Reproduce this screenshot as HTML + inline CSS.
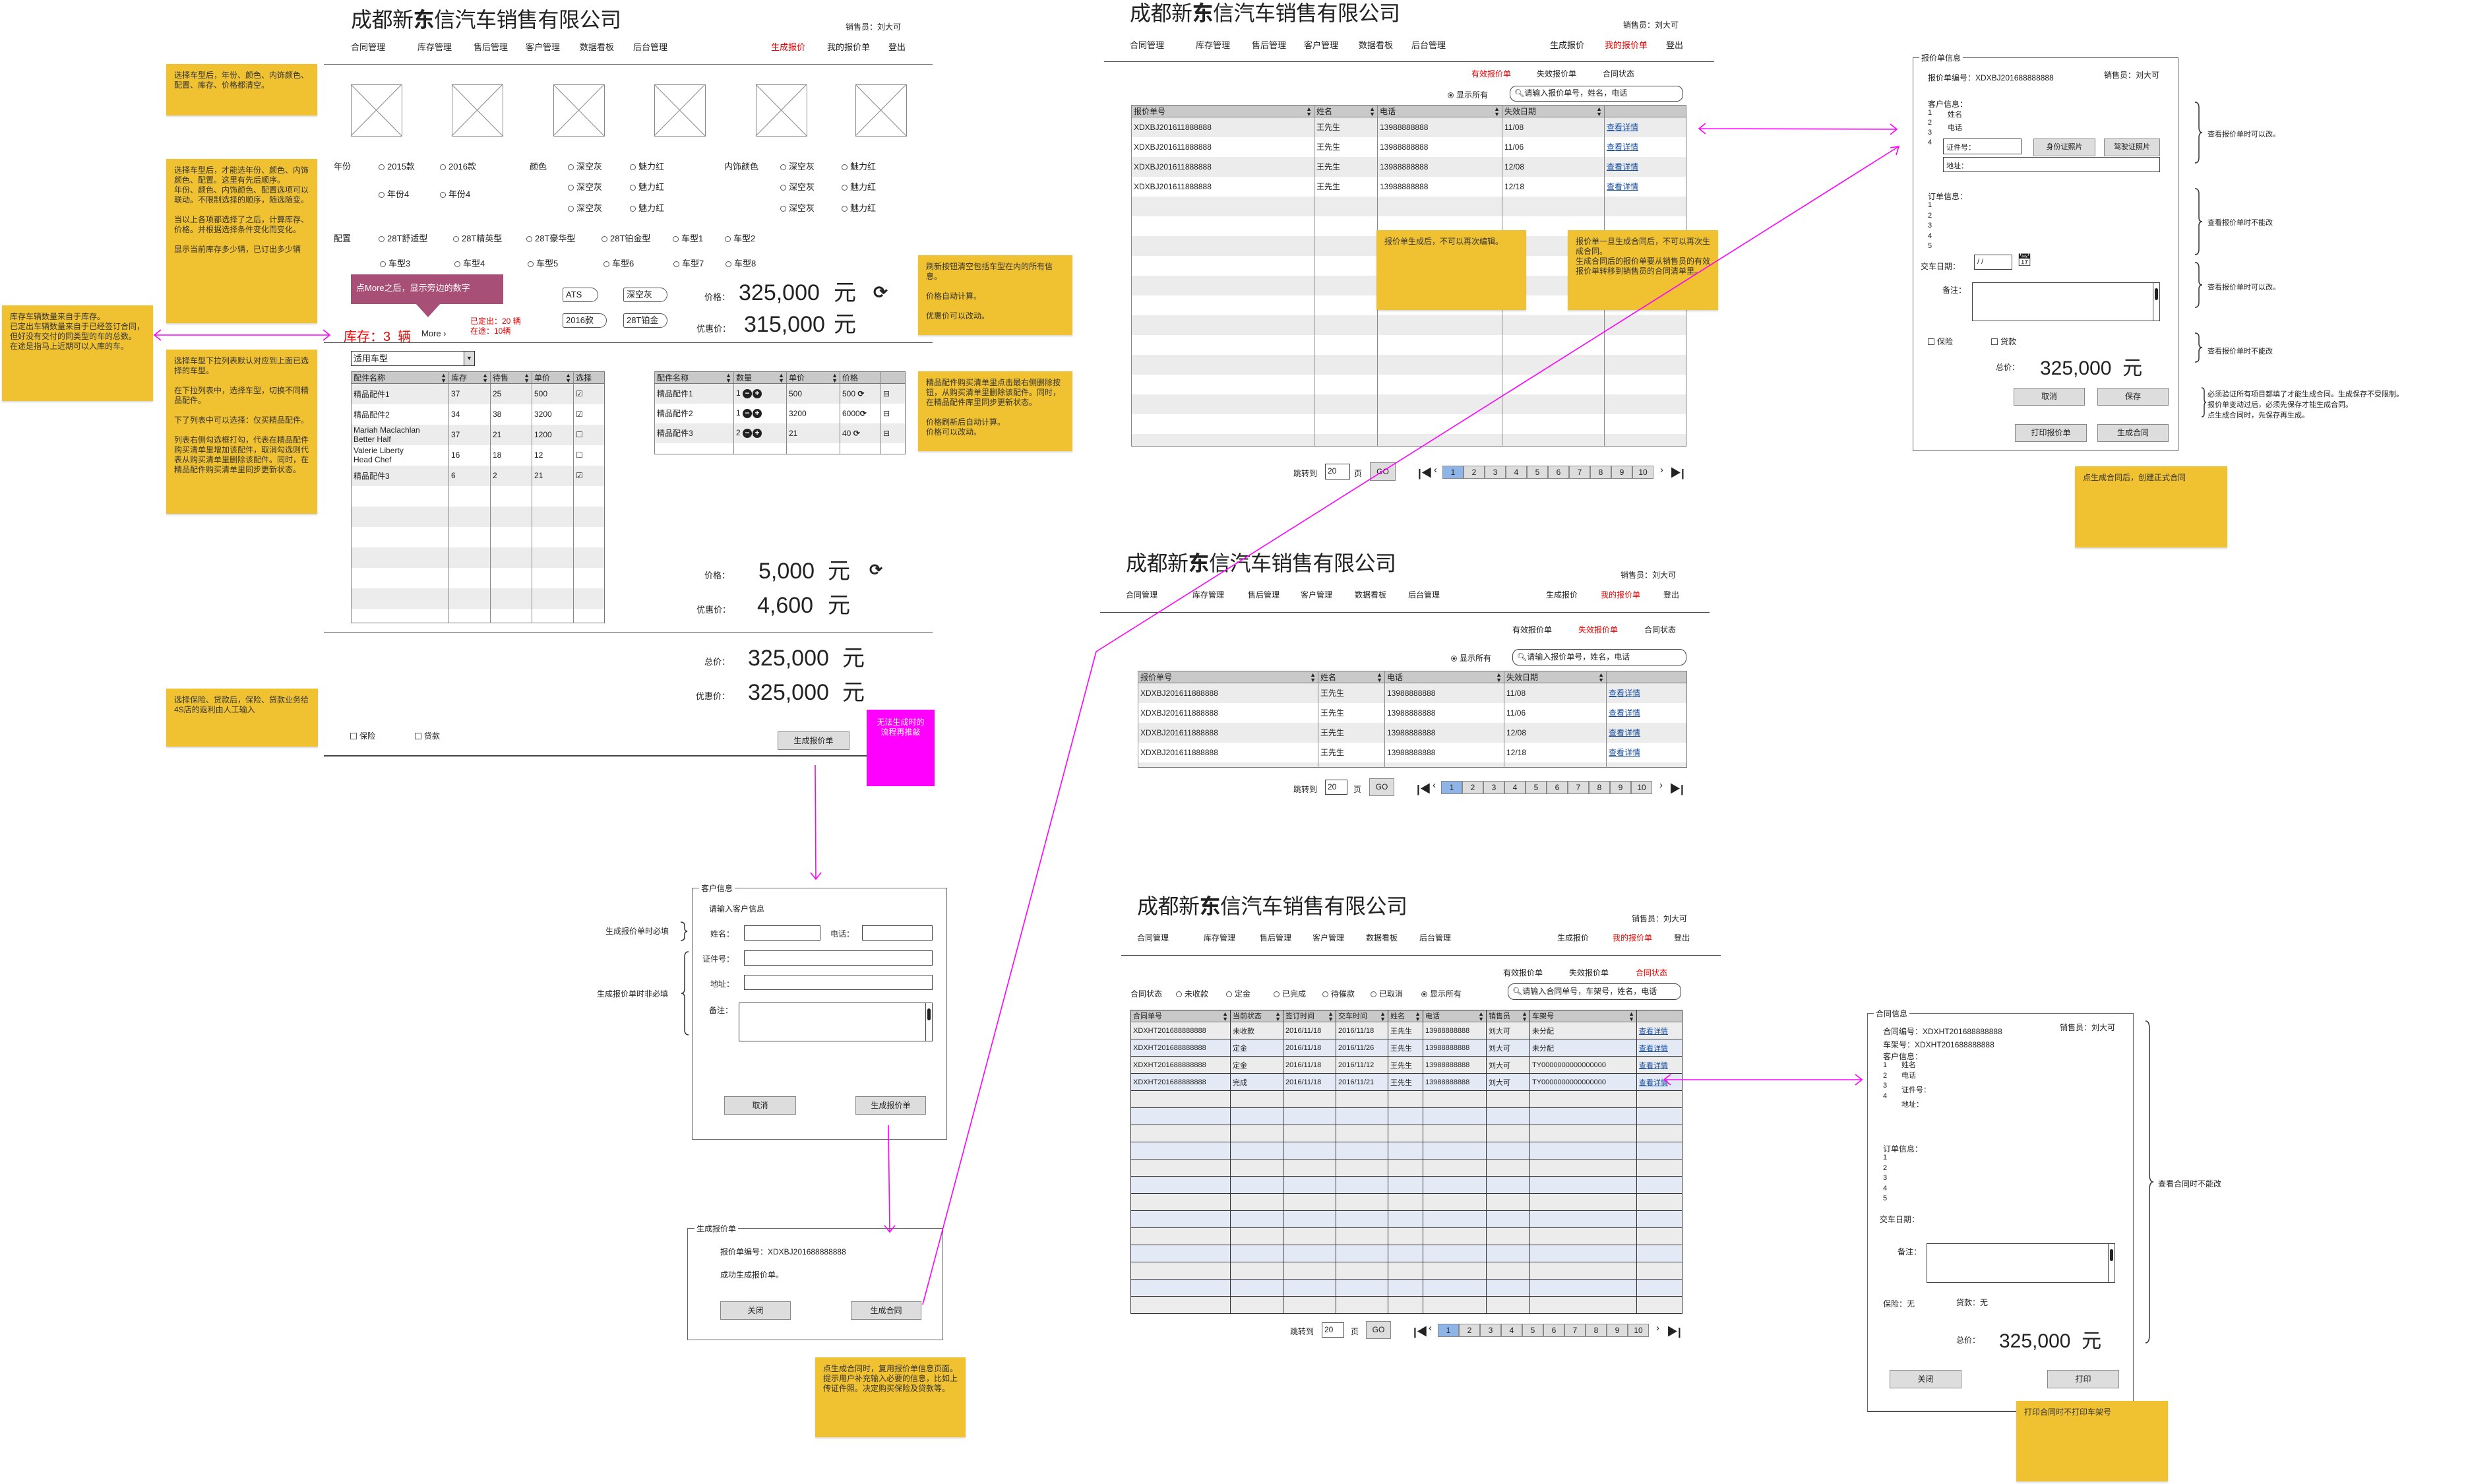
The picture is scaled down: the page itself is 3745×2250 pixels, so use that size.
<!DOCTYPE html>
<html><head><meta charset="utf-8">
<style>
*{box-sizing:border-box;margin:0;padding:0}
body{width:3745px;height:2250px;position:relative;background:#fff;font-family:"Liberation Sans","Noto Sans CJK SC",sans-serif;color:#222;overflow:hidden}
.a{position:absolute;white-space:nowrap}
.ttl{position:absolute;font-size:32px;line-height:36px;color:#222;white-space:nowrap;letter-spacing:-0.5px}
.nav{position:absolute;font-size:13px;white-space:nowrap}
.red{color:#e00}
.hr{position:absolute;height:2px;background:#444}
.note{position:absolute;background:#f0c232;font-size:12px;line-height:15px;padding:10px 12px;white-space:normal;color:#333;box-shadow:0 2px 2px rgba(0,0,0,.15)}
.rd{display:inline-block;width:9px;height:9px;border:1px solid #555;border-radius:50%;margin-right:4px;vertical-align:-1px}
.rd.on{background:radial-gradient(#333 35%,#fff 45%)}
.cb{display:inline-block;width:10px;height:10px;border:1px solid #555;margin-right:4px;vertical-align:-1px}
.r{position:absolute;font-size:13px;white-space:nowrap}
.tag{position:absolute;height:22px;border:1px solid #555;border-radius:3px 12px 12px 3px;font-size:13px;line-height:20px;padding-left:4px}
.big{position:absolute;font-size:34px;line-height:36px;white-space:nowrap;color:#222}
.btn{position:absolute;background:#ddd;border:1px solid #888;font-size:12px;text-align:center}
.inp{position:absolute;border:1px solid #444;background:#fff}
table.t{position:absolute;border-collapse:collapse;table-layout:fixed;font-size:12px;border:1px solid #777}
table.t td{padding:0 3px;overflow:hidden;white-space:nowrap;border-left:1px solid #888;vertical-align:middle}
table.t tr.h td{background:#c9c9c9;border-bottom:1px solid #777}
table.t tr.g td{background:#ececec}
table.t tr.b td{background:#e3eaf6}
table.t.k td{border:1px solid #333}
.lk{color:#1a4fa0;text-decoration:underline}
.srt{float:right;font-size:9px;line-height:8px;margin-top:1px}
.pg{position:absolute;height:20px;display:flex;font-size:12px}
.pg span{border:1px solid #888;background:#ddd;width:32px;text-align:center;line-height:18px}
.pg span.on{background:#8fb4e8}
.fs{position:absolute;border:1px solid #666;border-top:1px solid #666}
.lg{position:absolute;background:#fff;font-size:12px;padding:0 3px;white-space:nowrap}
.sb{position:absolute;border:1px solid #444;border-radius:10px;font-size:12px;line-height:20px;padding-left:6px;background:#fff}
.ic{display:inline-block;width:14px;height:14px;border-radius:50%;background:#222;color:#fff;font-size:12px;line-height:13px;text-align:center;font-weight:bold;margin-right:1px}
</style></head><body>

<!-- ================= PANEL 1 ================= -->
<div class="ttl" style="left:532px;top:12px">成都新<b>东</b>信汽车销售有限公司</div>
<div class="a" style="left:1282px;top:32px;font-size:12px">销售员：刘大可</div>
<div class="nav" style="left:532px;top:61px">合同管理</div>
<div class="nav" style="left:633px;top:61px">库存管理</div>
<div class="nav" style="left:718px;top:61px">售后管理</div>
<div class="nav" style="left:797px;top:61px">客户管理</div>
<div class="nav" style="left:879px;top:61px">数据看板</div>
<div class="nav" style="left:960px;top:61px">后台管理</div>
<div class="nav red" style="left:1169px;top:61px">生成报价</div>
<div class="nav" style="left:1254px;top:61px">我的报价单</div>
<div class="nav" style="left:1347px;top:61px">登出</div>
<div class="hr" style="left:491px;top:97px;width:923px;height:1px;background:#666"></div>

<div class="note" style="left:252px;top:97px;width:229px;height:78px">选择车型后，年份、颜色、内饰颜色、配置、库存、价格都清空。</div>

<svg class="a" style="left:0;top:0" width="3745" height="2250">
<g stroke="#888" stroke-width="1" fill="none">
<rect x="532.5" y="128.5" width="77" height="78"/><path d="M532 128L609 206M609 128L532 206"/>
<rect x="685.5" y="128.5" width="77" height="78"/><path d="M685 128L762 206M762 128L685 206"/>
<rect x="839.5" y="128.5" width="77" height="78"/><path d="M839 128L916 206M916 128L839 206"/>
<rect x="992.5" y="128.5" width="77" height="78"/><path d="M992 128L1069 206M1069 128L992 206"/>
<rect x="1146.5" y="128.5" width="77" height="78"/><path d="M1146 128L1223 206M1223 128L1146 206"/>
<rect x="1297.5" y="128.5" width="77" height="78"/><path d="M1297 128L1374 206M1374 128L1297 206"/>
</g>
</svg>

<div class="r" style="left:506px;top:242px">年份</div>
<div class="r" style="left:574px;top:242px"><span class="rd"></span>2015款</div>
<div class="r" style="left:667px;top:242px"><span class="rd"></span>2016款</div>
<div class="r" style="left:574px;top:284px"><span class="rd"></span>年份4</div>
<div class="r" style="left:667px;top:284px"><span class="rd"></span>年份4</div>
<div class="r" style="left:803px;top:242px">颜色</div>
<div class="r" style="left:861px;top:242px"><span class="rd"></span>深空灰</div>
<div class="r" style="left:955px;top:242px"><span class="rd"></span>魅力红</div>
<div class="r" style="left:861px;top:273px"><span class="rd"></span>深空灰</div>
<div class="r" style="left:955px;top:273px"><span class="rd"></span>魅力红</div>
<div class="r" style="left:861px;top:305px"><span class="rd"></span>深空灰</div>
<div class="r" style="left:955px;top:305px"><span class="rd"></span>魅力红</div>
<div class="r" style="left:1098px;top:242px">内饰颜色</div>
<div class="r" style="left:1183px;top:242px"><span class="rd"></span>深空灰</div>
<div class="r" style="left:1276px;top:242px"><span class="rd"></span>魅力红</div>
<div class="r" style="left:1183px;top:273px"><span class="rd"></span>深空灰</div>
<div class="r" style="left:1276px;top:273px"><span class="rd"></span>魅力红</div>
<div class="r" style="left:1183px;top:305px"><span class="rd"></span>深空灰</div>
<div class="r" style="left:1276px;top:305px"><span class="rd"></span>魅力红</div>
<div class="r" style="left:506px;top:351px">配置</div>
<div class="r" style="left:574px;top:351px"><span class="rd"></span>28T舒适型</div>
<div class="r" style="left:687px;top:351px"><span class="rd"></span>28T精英型</div>
<div class="r" style="left:798px;top:351px"><span class="rd"></span>28T豪华型</div>
<div class="r" style="left:912px;top:351px"><span class="rd"></span>28T铂金型</div>
<div class="r" style="left:1020px;top:351px"><span class="rd"></span>车型1</div>
<div class="r" style="left:1099px;top:351px"><span class="rd"></span>车型2</div>
<div class="r" style="left:576px;top:389px"><span class="rd"></span>车型3</div>
<div class="r" style="left:689px;top:389px"><span class="rd"></span>车型4</div>
<div class="r" style="left:800px;top:389px"><span class="rd"></span>车型5</div>
<div class="r" style="left:915px;top:389px"><span class="rd"></span>车型6</div>
<div class="r" style="left:1021px;top:389px"><span class="rd"></span>车型7</div>
<div class="r" style="left:1100px;top:389px"><span class="rd"></span>车型8</div>

<div class="note" style="left:252px;top:241px;width:229px;height:249px">选择车型后，才能选年份、颜色、内饰颜色、配置。这里有先后顺序。<br>年份、颜色、内饰颜色、配置选项可以联动。不限制选择的顺序，随选随变。<br><br>当以上各项都选择了之后，计算库存、价格。并根据选择条件变化而变化。<br><br>显示当前库存多少辆，已订出多少辆</div>

<div class="a" style="left:532px;top:416px;width:231px;height:45px;background:#a84f78;color:#fff;font-size:13px;padding:10px 8px">点More之后，显示旁边的数字</div>
<svg class="a" style="left:630px;top:460px" width="40" height="22"><polygon points="0,0 38,0 19,21" fill="#a84f78"/></svg>

<div class="tag" style="left:853px;top:436px;width:54px">ATS</div>
<div class="tag" style="left:945px;top:436px;width:67px">深空灰</div>
<div class="tag" style="left:853px;top:475px;width:67px">2016款</div>
<div class="tag" style="left:945px;top:475px;width:67px">28T铂金</div>

<div class="a" style="left:1068px;top:440px;font-size:13px">价格：</div>
<div class="big" style="left:1120px;top:426px">325,000</div>
<div class="big" style="left:1264px;top:426px">元</div>
<div class="a" style="left:1324px;top:428px;font-size:26px;font-weight:bold">⟳</div>
<div class="a" style="left:1056px;top:488px;font-size:13px">优惠价：</div>
<div class="big" style="left:1128px;top:474px">315,000</div>
<div class="big" style="left:1264px;top:474px">元</div>

<div class="a red" style="left:521px;top:494px;font-size:20px">库存：3&nbsp;&nbsp;辆</div>
<div class="a" style="left:639px;top:498px;font-size:13px">More ›</div>
<div class="a red" style="left:713px;top:480px;font-size:12px;line-height:15px">已定出：20 辆<br>在途：10辆</div>
<div class="hr" style="left:491px;top:519px;width:923px;height:1px;background:#555"></div>

<div class="note" style="left:3px;top:463px;width:229px;height:145px">库存车辆数量来自于库存。<br>已定出车辆数量来自于已经签订合同，但好没有交付的同类型的车的总数。<br>在途是指马上近期可以入库的车。</div>
<div class="note" style="left:252px;top:530px;width:229px;height:249px">选择车型下拉列表默认对应到上面已选择的车型。<br><br>在下拉列表中，选择车型，切换不同精品配件。<br><br>下了列表中可以选择：仅买精品配件。<br><br>列表右侧勾选框打勾，代表在精品配件购买清单里增加该配件，取消勾选则代表从购买清单里删除该配件。同时，在精品配件购买清单里同步更新状态。</div>

<div class="a" style="left:532px;top:532px;width:188px;height:23px;border:1px solid #333;font-size:13px;line-height:21px;padding-left:3px">适用车型<span style="position:absolute;right:0;top:0;width:16px;height:21px;border-left:1px solid #333;background:#ddd;font-size:9px;text-align:center">▼</span></div>

<table class="t" style="left:532px;top:563px;width:384px;height:378px">
<colgroup><col style="width:148px"><col style="width:63px"><col style="width:63px"><col style="width:63px"><col style="width:47px"></colgroup>
<tr class="h" style="height:16px"><td>配件名称<span class="srt">▲<br>▼</span></td><td>库存<span class="srt">▲<br>▼</span></td><td>待售<span class="srt">▲<br>▼</span></td><td>单价<span class="srt">▲<br>▼</span></td><td>选择</td></tr>
<tr class="g" style="height:31px"><td>精品配件1</td><td>37</td><td>25</td><td>500</td><td>☑</td></tr>
<tr style="height:31px"><td>精品配件2</td><td>34</td><td>38</td><td>3200</td><td>☑</td></tr>
<tr class="g" style="height:31px"><td style="line-height:14px">Mariah Maclachlan<br>Better Half</td><td>37</td><td>21</td><td>1200</td><td>☐</td></tr>
<tr style="height:31px"><td style="line-height:14px">Valerie Liberty<br>Head Chef</td><td>16</td><td>18</td><td>12</td><td>☐</td></tr>
<tr class="g" style="height:31px"><td>精品配件3</td><td>6</td><td>2</td><td>21</td><td>☑</td></tr>
<tr style="height:31px"><td></td><td></td><td></td><td></td><td></td></tr>
<tr class="g" style="height:31px"><td></td><td></td><td></td><td></td><td></td></tr>
<tr style="height:31px"><td></td><td></td><td></td><td></td><td></td></tr>
<tr class="g" style="height:31px"><td></td><td></td><td></td><td></td><td></td></tr>
<tr style="height:31px"><td></td><td></td><td></td><td></td><td></td></tr>
<tr class="g" style="height:31px"><td></td><td></td><td></td><td></td><td></td></tr>
<tr style="height:22px"><td></td><td></td><td></td><td></td><td></td></tr>
</table>

<table class="t" style="left:992px;top:563px;width:380px;height:123px">
<colgroup><col style="width:120px"><col style="width:80px"><col style="width:81px"><col style="width:62px"><col style="width:37px"></colgroup>
<tr class="h" style="height:16px"><td>配件名称<span class="srt">▲<br>▼</span></td><td>数量<span class="srt">▲<br>▼</span></td><td>单价<span class="srt">▲<br>▼</span></td><td>价格</td><td></td></tr>
<tr class="g" style="height:30px"><td>精品配件1</td><td>1 <span class="ic">−</span><span class="ic">+</span></td><td>500</td><td>500 <b>⟳</b></td><td>⊟</td></tr>
<tr style="height:30px"><td>精品配件2</td><td>1 <span class="ic">−</span><span class="ic">+</span></td><td>3200</td><td>6000<b>⟳</b></td><td>⊟</td></tr>
<tr class="g" style="height:30px"><td>精品配件3</td><td>2 <span class="ic">−</span><span class="ic">+</span></td><td>21</td><td>40 <b>⟳</b></td><td>⊟</td></tr>
<tr style="height:17px"><td></td><td></td><td></td><td></td><td></td></tr>
</table>

<div class="note" style="left:1392px;top:387px;width:234px;height:121px">刷新按钮清空包括车型在内的所有信息。<br><br>价格自动计算。<br><br>优惠价可以改动。</div>
<div class="note" style="left:1392px;top:563px;width:234px;height:121px">精品配件购买清单里点击最右侧删除按钮，从购买清单里删除该配件。同时，在精品配件库里同步更新状态。<br><br>价格刷新后自动计算。<br>价格可以改动。</div>

<div class="a" style="left:1068px;top:862px;font-size:13px">价格：</div>
<div class="big" style="left:1150px;top:848px">5,000</div>
<div class="big" style="left:1255px;top:848px">元</div>
<div class="a" style="left:1318px;top:850px;font-size:24px;font-weight:bold">⟳</div>
<div class="a" style="left:1056px;top:914px;font-size:13px">优惠价：</div>
<div class="big" style="left:1148px;top:900px">4,600</div>
<div class="big" style="left:1255px;top:900px">元</div>
<div class="hr" style="left:491px;top:958px;width:923px;height:1px;background:#555"></div>

<div class="a" style="left:1068px;top:993px;font-size:13px">总价：</div>
<div class="big" style="left:1134px;top:980px">325,000</div>
<div class="big" style="left:1277px;top:980px">元</div>
<div class="a" style="left:1055px;top:1045px;font-size:13px">优惠价：</div>
<div class="big" style="left:1134px;top:1032px">325,000</div>
<div class="big" style="left:1277px;top:1032px">元</div>
<div class="note" style="left:252px;top:1044px;width:230px;height:88px">选择保险、贷款后，保险、贷款业务给4S店的返利由人工输入</div>
<div class="r" style="left:531px;top:1107px;font-size:12px"><span class="cb"></span>保险</div>
<div class="r" style="left:629px;top:1107px;font-size:12px"><span class="cb"></span>贷款</div>
<div class="btn" style="left:1179px;top:1109px;width:109px;height:28px;line-height:26px">生成报价单</div>
<div class="hr" style="left:491px;top:1145px;width:824px;height:2px;background:#444"></div>
<div class="a" style="left:1314px;top:1076px;width:103px;height:116px;background:#ff00ff;color:#fff;font-size:12px;line-height:15px;text-align:center;padding-top:12px;white-space:normal">无法生成时的<br>流程再推敲</div>

<!-- 客户信息 form -->
<div class="fs" style="left:1049px;top:1346px;width:387px;height:382px"></div>
<div class="lg" style="left:1060px;top:1338px">客户信息</div>
<div class="a" style="left:1075px;top:1369px;font-size:12px">请输入客户信息</div>
<div class="a" style="left:1077px;top:1407px;font-size:12px">姓名：</div>
<div class="inp" style="left:1128px;top:1403px;width:116px;height:23px"></div>
<div class="a" style="left:1259px;top:1407px;font-size:12px">电话：</div>
<div class="inp" style="left:1307px;top:1403px;width:107px;height:23px"></div>
<div class="a" style="left:1065px;top:1445px;font-size:12px">证件号：</div>
<div class="inp" style="left:1128px;top:1441px;width:286px;height:23px"></div>
<div class="a" style="left:1077px;top:1483px;font-size:12px">地址：</div>
<div class="inp" style="left:1128px;top:1478px;width:286px;height:23px"></div>
<div class="a" style="left:1075px;top:1523px;font-size:12px">备注：</div>
<div class="inp" style="left:1120px;top:1520px;width:294px;height:59px"><div style="position:absolute;right:0;top:0;width:10px;height:57px;border-left:1px solid #444"><div style="margin:8px 2px;height:18px;background:#222;border-radius:3px"></div></div></div>
<div class="btn" style="left:1098px;top:1662px;width:109px;height:28px;line-height:26px">取消</div>
<div class="btn" style="left:1297px;top:1662px;width:107px;height:28px;line-height:26px">生成报价单</div>
<div class="a" style="left:918px;top:1403px;font-size:12px">生成报价单时必填</div>
<div class="a" style="left:905px;top:1498px;font-size:12px">生成报价单时非必填</div>

<!-- 生成报价单 panel -->
<div class="fs" style="left:1042px;top:1862px;width:388px;height:170px"></div>
<div class="lg" style="left:1053px;top:1854px">生成报价单</div>
<div class="a" style="left:1092px;top:1889px;font-size:12px">报价单编号：XDXBJ201688888888</div>
<div class="a" style="left:1092px;top:1924px;font-size:12px">成功生成报价单。</div>
<div class="btn" style="left:1092px;top:1973px;width:107px;height:28px;line-height:26px">关闭</div>
<div class="btn" style="left:1290px;top:1973px;width:107px;height:28px;line-height:26px">生成合同</div>
<div class="note" style="left:1236px;top:2058px;width:228px;height:121px">点生成合同时，复用报价单信息页面。<br>提示用户补充输入必要的信息，比如上传证件照。决定购买保险及贷款等。</div>

<!-- ================= PANEL 2 ================= -->
<div class="ttl" style="left:1713px;top:2px">成都新<b>东</b>信汽车销售有限公司</div>
<div class="a" style="left:2461px;top:29px;font-size:12px">销售员：刘大可</div>
<div class="nav" style="left:1713px;top:58px">合同管理</div>
<div class="nav" style="left:1813px;top:58px">库存管理</div>
<div class="nav" style="left:1898px;top:58px">售后管理</div>
<div class="nav" style="left:1977px;top:58px">客户管理</div>
<div class="nav" style="left:2060px;top:58px">数据看板</div>
<div class="nav" style="left:2140px;top:58px">后台管理</div>
<div class="nav" style="left:2350px;top:58px">生成报价</div>
<div class="nav red" style="left:2433px;top:58px">我的报价单</div>
<div class="nav" style="left:2526px;top:58px">登出</div>
<div class="hr" style="left:1674px;top:93px;width:925px;height:1px;background:#444"></div>
<div class="nav red" style="left:2231px;top:103px;font-size:12px">有效报价单</div>
<div class="nav" style="left:2330px;top:103px;font-size:12px">失效报价单</div>
<div class="nav" style="left:2430px;top:103px;font-size:12px">合同状态</div>
<div class="a" style="left:2195px;top:135px;font-size:12px"><span class="rd on"></span>显示所有</div>
<div class="sb" style="left:2289px;top:130px;width:263px;height:24px">🔍︎请输入报价单号，姓名，电话</div>

<table class="t" style="left:1715px;top:159px;width:841px;height:516px">
<colgroup><col style="width:277px"><col style="width:96px"><col style="width:189px"><col style="width:155px"><col style="width:124px"></colgroup>
<tr class="h" style="height:17px"><td>报价单号<span class="srt">▲<br>▼</span></td><td>姓名<span class="srt">▲<br>▼</span></td><td>电话<span class="srt">▲<br>▼</span></td><td>失效日期<span class="srt">▲<br>▼</span></td><td></td></tr>
<tr class="g" style="height:30px"><td>XDXBJ201611888888</td><td>王先生</td><td>13988888888</td><td>11/08</td><td><span class="lk">查看详情</span></td></tr>
<tr style="height:30px"><td>XDXBJ201611888888</td><td>王先生</td><td>13988888888</td><td>11/06</td><td><span class="lk">查看详情</span></td></tr>
<tr class="g" style="height:30px"><td>XDXBJ201611888888</td><td>王先生</td><td>13988888888</td><td>12/08</td><td><span class="lk">查看详情</span></td></tr>
<tr style="height:30px"><td>XDXBJ201611888888</td><td>王先生</td><td>13988888888</td><td>12/18</td><td><span class="lk">查看详情</span></td></tr>
<tr class="g" style="height:30px"><td></td><td></td><td></td><td></td><td></td></tr>
<tr style="height:30px"><td></td><td></td><td></td><td></td><td></td></tr>
<tr class="g" style="height:30px"><td></td><td></td><td></td><td></td><td></td></tr>
<tr style="height:30px"><td></td><td></td><td></td><td></td><td></td></tr>
<tr class="g" style="height:30px"><td></td><td></td><td></td><td></td><td></td></tr>
<tr style="height:30px"><td></td><td></td><td></td><td></td><td></td></tr>
<tr class="g" style="height:30px"><td></td><td></td><td></td><td></td><td></td></tr>
<tr style="height:30px"><td></td><td></td><td></td><td></td><td></td></tr>
<tr class="g" style="height:30px"><td></td><td></td><td></td><td></td><td></td></tr>
<tr style="height:30px"><td></td><td></td><td></td><td></td><td></td></tr>
<tr class="g" style="height:30px"><td></td><td></td><td></td><td></td><td></td></tr>
<tr style="height:30px"><td></td><td></td><td></td><td></td><td></td></tr>
<tr class="g" style="height:19px"><td></td><td></td><td></td><td></td><td></td></tr>
</table>
<div class="note" style="left:2087px;top:349px;width:227px;height:121px">报价单生成后，不可以再次编辑。</div>
<div class="note" style="left:2377px;top:349px;width:228px;height:121px">报价单一旦生成合同后，不可以再次生成合同。<br>生成合同后的报价单要从销售员的有效报价单转移到销售员的合同清单里。</div>

<div class="a" style="left:1961px;top:709px;font-size:12px">跳转到</div>
<div class="inp" style="left:2009px;top:703px;width:38px;height:24px;font-size:12px;padding:3px">20</div>
<div class="a" style="left:2053px;top:709px;font-size:12px">页</div>
<div class="btn" style="left:2077px;top:701px;width:39px;height:28px;line-height:26px">GO</div>
<div class="a" style="left:2150px;top:703px;font-size:17px;font-weight:bold">|◀</div>
<div class="a" style="left:2174px;top:704px;font-size:15px">‹</div>
<div class="pg" style="left:2187px;top:706px"><span class="on">1</span><span>2</span><span>3</span><span>4</span><span>5</span><span>6</span><span>7</span><span>8</span><span>9</span><span>10</span></div>
<div class="a" style="left:2517px;top:704px;font-size:15px">›</div>
<div class="a" style="left:2532px;top:703px;font-size:17px;font-weight:bold">▶|</div>

<!-- 报价单信息 panel -->
<div class="fs" style="left:2900px;top:87px;width:403px;height:597px"></div>
<div class="lg" style="left:2910px;top:79px">报价单信息</div>
<div class="a" style="left:2923px;top:109px;font-size:12px">报价单编号：XDXBJ201688888888</div>
<div class="a" style="left:3190px;top:105px;font-size:12px">销售员：刘大可</div>
<div class="a" style="left:2923px;top:149px;font-size:12px">客户信息：</div>
<div class="a" style="left:2923px;top:164px;font-size:11px;line-height:15px">1<br>2<br>3<br>4</div>
<div class="a" style="left:2953px;top:164px;font-size:11px;line-height:20px">姓名<br>电话</div>
<div class="inp" style="left:2946px;top:210px;width:119px;height:24px;font-size:11px;padding:4px">证件号：</div>
<div class="btn" style="left:3083px;top:210px;width:94px;height:27px;line-height:25px;font-size:11px">身份证照片</div>
<div class="btn" style="left:3190px;top:210px;width:85px;height:27px;line-height:25px;font-size:11px">驾驶证照片</div>
<div class="inp" style="left:2946px;top:238px;width:329px;height:23px;font-size:11px;padding:4px">地址：</div>
<div class="a" style="left:2923px;top:289px;font-size:12px">订单信息：</div>
<div class="a" style="left:2923px;top:304px;font-size:11px;line-height:15.5px">1<br>2<br>3<br>4<br>5</div>
<div class="a" style="left:2912px;top:395px;font-size:12px">交车日期：</div>
<div class="inp" style="left:2993px;top:386px;width:58px;height:23px;font-size:11px;padding:4px">/ /</div>
<div class="a" style="left:3058px;top:384px;font-size:18px">📅︎</div>
<div class="a" style="left:2945px;top:431px;font-size:12px">备注：</div>
<div class="inp" style="left:2990px;top:428px;width:285px;height:59px"><div style="position:absolute;right:0;top:0;width:10px;height:57px;border-left:1px solid #444"><div style="margin:8px 2px;height:18px;background:#222;border-radius:3px"></div></div></div>
<div class="r" style="left:2923px;top:509px;font-size:12px"><span class="cb"></span>保险</div>
<div class="r" style="left:3019px;top:509px;font-size:12px"><span class="cb"></span>贷款</div>
<div class="a" style="left:3026px;top:548px;font-size:12px">总价：</div>
<div class="a" style="left:3093px;top:533px;font-size:30px">325,000&nbsp;&nbsp;元</div>
<div class="btn" style="left:3053px;top:588px;width:108px;height:27px;line-height:25px">取消</div>
<div class="btn" style="left:3180px;top:588px;width:108px;height:27px;line-height:25px">保存</div>
<div class="btn" style="left:3055px;top:643px;width:109px;height:27px;line-height:25px">打印报价单</div>
<div class="btn" style="left:3180px;top:643px;width:108px;height:27px;line-height:25px">生成合同</div>
<div class="a" style="left:3347px;top:195px;font-size:11px">查看报价单时可以改。</div>
<div class="a" style="left:3347px;top:329px;font-size:11px">查看报价单时不能改</div>
<div class="a" style="left:3347px;top:427px;font-size:11px">查看报价单时可以改。</div>
<div class="a" style="left:3347px;top:524px;font-size:11px">查看报价单时不能改</div>
<div class="a" style="left:3347px;top:590px;font-size:11px;line-height:16px">必须验证所有项目都填了才能生成合同。生成保存不受限制。<br>报价单变动过后，必须先保存才能生成合同。<br>点生成合同时，先保存再生成。</div>
<div class="note" style="left:3146px;top:707px;width:231px;height:123px">点生成合同后，创建正式合同</div>

<!-- ================= PANEL 3 ================= -->
<div class="ttl" style="left:1707px;top:836px">成都新<b>东</b>信汽车销售有限公司</div>
<div class="a" style="left:2457px;top:863px;font-size:12px">销售员：刘大可</div>
<div class="nav" style="left:1707px;top:893px;font-size:12px">合同管理</div>
<div class="nav" style="left:1808px;top:893px;font-size:12px">库存管理</div>
<div class="nav" style="left:1892px;top:893px;font-size:12px">售后管理</div>
<div class="nav" style="left:1972px;top:893px;font-size:12px">客户管理</div>
<div class="nav" style="left:2054px;top:893px;font-size:12px">数据看板</div>
<div class="nav" style="left:2135px;top:893px;font-size:12px">后台管理</div>
<div class="nav" style="left:2344px;top:893px;font-size:12px">生成报价</div>
<div class="nav red" style="left:2427px;top:893px;font-size:12px">我的报价单</div>
<div class="nav" style="left:2522px;top:893px;font-size:12px">登出</div>
<div class="hr" style="left:1668px;top:928px;width:924px;height:1px;background:#444"></div>
<div class="nav" style="left:2293px;top:946px;font-size:12px">有效报价单</div>
<div class="nav red" style="left:2393px;top:946px;font-size:12px">失效报价单</div>
<div class="nav" style="left:2493px;top:946px;font-size:12px">合同状态</div>
<div class="a" style="left:2200px;top:989px;font-size:12px"><span class="rd on"></span>显示所有</div>
<div class="sb" style="left:2293px;top:984px;width:264px;height:25px;line-height:23px">🔍︎请输入报价单号，姓名，电话</div>
<table class="t" style="left:1725px;top:1017px;width:832px;height:145px">
<colgroup><col style="width:273px"><col style="width:101px"><col style="width:181px"><col style="width:155px"><col style="width:122px"></colgroup>
<tr class="h" style="height:17px"><td>报价单号<span class="srt">▲<br>▼</span></td><td>姓名<span class="srt">▲<br>▼</span></td><td>电话<span class="srt">▲<br>▼</span></td><td>失效日期<span class="srt">▲<br>▼</span></td><td></td></tr>
<tr class="g" style="height:30px"><td>XDXBJ201611888888</td><td>王先生</td><td>13988888888</td><td>11/08</td><td><span class="lk">查看详情</span></td></tr>
<tr style="height:30px"><td>XDXBJ201611888888</td><td>王先生</td><td>13988888888</td><td>11/06</td><td><span class="lk">查看详情</span></td></tr>
<tr class="g" style="height:30px"><td>XDXBJ201611888888</td><td>王先生</td><td>13988888888</td><td>12/08</td><td><span class="lk">查看详情</span></td></tr>
<tr style="height:30px"><td>XDXBJ201611888888</td><td>王先生</td><td>13988888888</td><td>12/18</td><td><span class="lk">查看详情</span></td></tr>
<tr class="g" style="height:8px"><td></td><td></td><td></td><td></td><td></td></tr>
</table>
<div class="a" style="left:1961px;top:1188px;font-size:12px">跳转到</div>
<div class="inp" style="left:2009px;top:1182px;width:34px;height:23px;font-size:12px;padding:3px">20</div>
<div class="a" style="left:2052px;top:1188px;font-size:12px">页</div>
<div class="btn" style="left:2076px;top:1180px;width:38px;height:27px;line-height:25px">GO</div>
<div class="a" style="left:2148px;top:1182px;font-size:17px;font-weight:bold">|◀</div>
<div class="a" style="left:2172px;top:1182px;font-size:15px">‹</div>
<div class="pg" style="left:2185px;top:1184px"><span class="on">1</span><span>2</span><span>3</span><span>4</span><span>5</span><span>6</span><span>7</span><span>8</span><span>9</span><span>10</span></div>
<div class="a" style="left:2516px;top:1182px;font-size:15px">›</div>
<div class="a" style="left:2531px;top:1182px;font-size:17px;font-weight:bold">▶|</div>

<!-- ================= PANEL 4 ================= -->
<div class="ttl" style="left:1724px;top:1356px">成都新<b>东</b>信汽车销售有限公司</div>
<div class="a" style="left:2474px;top:1384px;font-size:12px">销售员：刘大可</div>
<div class="nav" style="left:1724px;top:1413px;font-size:12px">合同管理</div>
<div class="nav" style="left:1825px;top:1413px;font-size:12px">库存管理</div>
<div class="nav" style="left:1910px;top:1413px;font-size:12px">售后管理</div>
<div class="nav" style="left:1990px;top:1413px;font-size:12px">客户管理</div>
<div class="nav" style="left:2071px;top:1413px;font-size:12px">数据看板</div>
<div class="nav" style="left:2152px;top:1413px;font-size:12px">后台管理</div>
<div class="nav" style="left:2361px;top:1413px;font-size:12px">生成报价</div>
<div class="nav red" style="left:2445px;top:1413px;font-size:12px">我的报价单</div>
<div class="nav" style="left:2538px;top:1413px;font-size:12px">登出</div>
<div class="hr" style="left:1700px;top:1448px;width:909px;height:1px;background:#444"></div>
<div class="nav" style="left:2279px;top:1466px;font-size:12px">有效报价单</div>
<div class="nav" style="left:2379px;top:1466px;font-size:12px">失效报价单</div>
<div class="nav red" style="left:2480px;top:1466px;font-size:12px">合同状态</div>
<div class="a" style="left:1714px;top:1498px;font-size:12px">合同状态</div>
<div class="a" style="left:1783px;top:1498px;font-size:12px"><span class="rd"></span>未收款</div>
<div class="a" style="left:1859px;top:1498px;font-size:12px"><span class="rd"></span>定金</div>
<div class="a" style="left:1931px;top:1498px;font-size:12px"><span class="rd"></span>已完成</div>
<div class="a" style="left:2005px;top:1498px;font-size:12px"><span class="rd"></span>待催款</div>
<div class="a" style="left:2078px;top:1498px;font-size:12px"><span class="rd"></span>已取消</div>
<div class="a" style="left:2155px;top:1498px;font-size:12px"><span class="rd on"></span>显示所有</div>
<div class="sb" style="left:2286px;top:1491px;width:263px;height:25px;line-height:23px">🔍︎请输入合同单号，车架号，姓名，电话</div>
<table class="t k" style="left:1714px;top:1531px;width:836px;height:457px;font-size:11px">
<colgroup><col style="width:151px"><col style="width:80px"><col style="width:80px"><col style="width:79px"><col style="width:53px"><col style="width:96px"><col style="width:66px"><col style="width:162px"><col style="width:69px"></colgroup>
<tr class="h" style="height:15px"><td>合同单号<span class="srt">▲<br>▼</span></td><td>当前状态<span class="srt">▲<br>▼</span></td><td>签订时间<span class="srt">▲<br>▼</span></td><td>交车时间<span class="srt">▲<br>▼</span></td><td>姓名<span class="srt">▲<br>▼</span></td><td>电话<span class="srt">▲<br>▼</span></td><td>销售员<span class="srt">▲<br>▼</span></td><td>车架号<span class="srt">▲<br>▼</span></td><td></td></tr>
<tr class="g" style="height:26px"><td>XDXHT201688888888</td><td>未收款</td><td>2016/11/18</td><td>2016/11/18</td><td>王先生</td><td>13988888888</td><td>刘大可</td><td>未分配</td><td><span class="lk">查看详情</span></td></tr>
<tr class="b" style="height:26px"><td>XDXHT201688888888</td><td>定金</td><td>2016/11/18</td><td>2016/11/26</td><td>王先生</td><td>13988888888</td><td>刘大可</td><td>未分配</td><td><span class="lk">查看详情</span></td></tr>
<tr class="g" style="height:26px"><td>XDXHT201688888888</td><td>定金</td><td>2016/11/18</td><td>2016/11/12</td><td>王先生</td><td>13988888888</td><td>刘大可</td><td>TY0000000000000000</td><td><span class="lk">查看详情</span></td></tr>
<tr class="b" style="height:26px"><td>XDXHT201688888888</td><td>完成</td><td>2016/11/18</td><td>2016/11/21</td><td>王先生</td><td>13988888888</td><td>刘大可</td><td>TY0000000000000000</td><td><span class="lk">查看详情</span></td></tr>
<tr class="g" style="height:26px"><td></td><td></td><td></td><td></td><td></td><td></td><td></td><td></td><td></td></tr>
<tr class="b" style="height:26px"><td></td><td></td><td></td><td></td><td></td><td></td><td></td><td></td><td></td></tr>
<tr class="g" style="height:26px"><td></td><td></td><td></td><td></td><td></td><td></td><td></td><td></td><td></td></tr>
<tr class="b" style="height:26px"><td></td><td></td><td></td><td></td><td></td><td></td><td></td><td></td><td></td></tr>
<tr class="g" style="height:26px"><td></td><td></td><td></td><td></td><td></td><td></td><td></td><td></td><td></td></tr>
<tr class="b" style="height:26px"><td></td><td></td><td></td><td></td><td></td><td></td><td></td><td></td><td></td></tr>
<tr class="g" style="height:26px"><td></td><td></td><td></td><td></td><td></td><td></td><td></td><td></td><td></td></tr>
<tr class="b" style="height:26px"><td></td><td></td><td></td><td></td><td></td><td></td><td></td><td></td><td></td></tr>
<tr class="g" style="height:26px"><td></td><td></td><td></td><td></td><td></td><td></td><td></td><td></td><td></td></tr>
<tr class="b" style="height:26px"><td></td><td></td><td></td><td></td><td></td><td></td><td></td><td></td><td></td></tr>
<tr class="g" style="height:26px"><td></td><td></td><td></td><td></td><td></td><td></td><td></td><td></td><td></td></tr>
<tr class="b" style="height:26px"><td></td><td></td><td></td><td></td><td></td><td></td><td></td><td></td><td></td></tr>
<tr class="g" style="height:26px"><td></td><td></td><td></td><td></td><td></td><td></td><td></td><td></td><td></td></tr>
</table>
<div class="a" style="left:1956px;top:2010px;font-size:12px">跳转到</div>
<div class="inp" style="left:2004px;top:2005px;width:34px;height:23px;font-size:12px;padding:3px">20</div>
<div class="a" style="left:2048px;top:2010px;font-size:12px">页</div>
<div class="btn" style="left:2071px;top:2003px;width:38px;height:27px;line-height:25px">GO</div>
<div class="a" style="left:2143px;top:2005px;font-size:17px;font-weight:bold">|◀</div>
<div class="a" style="left:2166px;top:2005px;font-size:15px">‹</div>
<div class="pg" style="left:2180px;top:2007px"><span class="on">1</span><span>2</span><span>3</span><span>4</span><span>5</span><span>6</span><span>7</span><span>8</span><span>9</span><span>10</span></div>
<div class="a" style="left:2511px;top:2005px;font-size:15px">›</div>
<div class="a" style="left:2527px;top:2005px;font-size:17px;font-weight:bold">▶|</div>

<!-- ================= PANEL 5 合同信息 ================= -->
<div class="fs" style="left:2831px;top:1536px;width:404px;height:605px;border-bottom:2px solid #555"></div>
<div class="lg" style="left:2841px;top:1528px">合同信息</div>
<div class="a" style="left:2855px;top:1555px;font-size:12px">合同编号：XDXHT201688888888</div>
<div class="a" style="left:3123px;top:1549px;font-size:12px">销售员：刘大可</div>
<div class="a" style="left:2855px;top:1575px;font-size:12px">车架号：XDXHT201688888888</div>
<div class="a" style="left:2855px;top:1593px;font-size:12px">客户信息：</div>
<div class="a" style="left:2855px;top:1608px;font-size:11px;line-height:15.5px">1<br>2<br>3<br>4</div>
<div class="a" style="left:2883px;top:1608px;font-size:11px;line-height:15.5px">姓名<br>电话</div>
<div class="a" style="left:2883px;top:1644px;font-size:11px">证件号：</div>
<div class="a" style="left:2883px;top:1666px;font-size:11px">地址：</div>
<div class="a" style="left:2855px;top:1733px;font-size:12px">订单信息：</div>
<div class="a" style="left:2855px;top:1748px;font-size:11px;line-height:15.5px">1<br>2<br>3<br>4<br>5</div>
<div class="a" style="left:2850px;top:1840px;font-size:12px">交车日期：</div>
<div class="a" style="left:2877px;top:1889px;font-size:12px">备注：</div>
<div class="inp" style="left:2921px;top:1885px;width:286px;height:60px"><div style="position:absolute;right:0;top:0;width:10px;height:58px;border-left:1px solid #444"><div style="margin:8px 2px;height:18px;background:#222;border-radius:3px"></div></div></div>
<div class="a" style="left:2855px;top:1968px;font-size:12px">保险：无</div>
<div class="a" style="left:2966px;top:1966px;font-size:12px">贷款：无</div>
<div class="a" style="left:2966px;top:2023px;font-size:12px">总价：</div>
<div class="a" style="left:3031px;top:2008px;font-size:30px">325,000&nbsp;&nbsp;元</div>
<div class="btn" style="left:2865px;top:2077px;width:109px;height:28px;line-height:26px">关闭</div>
<div class="btn" style="left:3104px;top:2077px;width:109px;height:28px;line-height:26px">打印</div>
<div class="a" style="left:3272px;top:1786px;font-size:12px">查看合同时不能改</div>
<div class="note" style="left:3057px;top:2124px;width:230px;height:122px">打印合同时不打印车架号</div>

<!-- ================= Connectors & braces ================= -->
<svg class="a" style="left:0;top:0" width="3745" height="2250">
<g stroke="#ff00ff" stroke-width="1.6" fill="none">
<path d="M234 508L500 508M244 500L234 508L244 516M490 500L500 508L490 516"/>
<path d="M1236 1160L1237 1333M1229 1323L1237 1333L1245 1323"/>
<path d="M1347 1706L1349 1868M1341 1858L1349 1868L1357 1858"/>
<path d="M1399 1978L1662 988L2879 222M2866 224L2879 222L2875 235"/>
<path d="M2576 195L2876 196M2586 187L2576 195L2586 203M2866 188L2876 196L2866 204"/>
<path d="M2523 1637L2823 1637M2533 1629L2523 1637L2533 1645M2813 1629L2823 1637L2813 1645"/>
</g>
<g stroke="#333" stroke-width="1.5" fill="none">
<path d="M1032 1398q6 0 6 6v4q0 3 4 4q-4 1 -4 4v4q0 6 -6 6"/>
<path d="M1044 1443q-6 0 -6 8v48q0 7 -5 7q5 0 5 7v48q0 8 6 8"/>
<path d="M3328 155q6 0 6 8v30q0 8 5 8q-5 0 -5 8v30q0 8 -6 8"/>
<path d="M3328 286q6 0 6 8v36q0 6 5 6q-5 0 -5 6v36q0 8 -6 8"/>
<path d="M3328 398q6 0 6 8v20q0 6 5 6q-5 0 -5 6v20q0 8 -6 8"/>
<path d="M3328 505q6 0 6 6v10q0 6 5 6q-5 0 -5 6v10q0 6 -6 6"/>
<path d="M3338 588q4 0 4 5v12q0 5 3 5q-3 0 -3 5v12q0 5 -4 5"/>
<path d="M3253 1548q6 0 6 12v220q0 12 6 12q-6 0 -6 12v220q0 12 -6 12"/>
</g>
</svg>
</body></html>
